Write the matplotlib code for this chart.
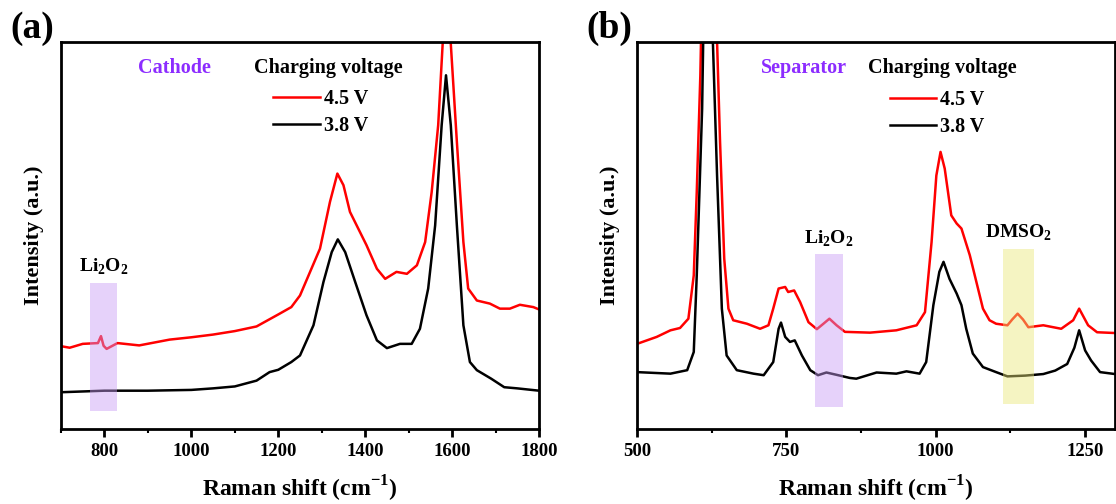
import numpy as np
import matplotlib
matplotlib.use("Agg")
import matplotlib.pyplot as plt
from matplotlib.ticker import MultipleLocator

plt.rcParams["font.family"] = ["Liberation Serif", "DejaVu Serif"]
plt.rcParams["font.weight"] = "bold"
plt.rcParams["mathtext.fontset"] = "custom"
plt.rcParams["mathtext.rm"] = "Liberation Serif:bold"
plt.rcParams["mathtext.bf"] = "Liberation Serif:bold"

# ---- panel (a): cathode ----
a_x_38 = [700, 800, 900, 1000, 1050, 1100, 1150, 1180, 1200, 1230, 1250, 1281, 1304,
          1323, 1337, 1354, 1377, 1403, 1427, 1450, 1480, 1507, 1526, 1545, 1561,
          1576, 1586, 1597, 1611, 1626, 1641, 1657, 1690, 1720, 1750, 1800]
a_y_38 = [9.5, 9.9, 9.9, 10.1, 10.5, 11.0, 12.5, 14.7, 15.3, 17.3, 19.0, 26.8, 38.0,
          45.7, 49.0, 45.7, 38.0, 29.4, 22.9, 20.9, 22.0, 22.0, 25.9, 36.3, 52.6,
          78.5, 91.4, 78.5, 52.6, 26.8, 17.3, 15.2, 13.0, 10.8, 10.5, 9.9]

a_x_45 = [700, 720, 750, 785, 792, 798, 805, 830, 880, 950, 1000, 1050, 1100, 1150,
          1200, 1230, 1250, 1296, 1319, 1336, 1350, 1365, 1403, 1427, 1446, 1472,
          1496, 1519, 1538, 1553, 1568, 1581, 1588, 1594, 1611, 1626, 1637, 1657,
          1687, 1710, 1733, 1756, 1787, 1800]
a_y_45 = [21.4, 21.0, 22.0, 22.2, 24.0, 21.5, 20.7, 22.2, 21.6, 23.1, 23.7, 24.4,
          25.3, 26.5, 29.6, 31.5, 34.5, 46.6, 58.7, 66.0, 63.0, 56.1, 47.5, 41.4,
          38.8, 40.6, 40.1, 42.3, 48.3, 61.2, 78.5, 105, 130, 105, 74.2, 48.3, 36.3,
          33.2, 32.4, 31.1, 31.1, 32.1, 31.5, 30.9]

# ---- panel (b): separator ----
b_x_38 = [500, 556, 584, 595, 600, 609, 618, 627, 634, 642, 650, 667, 695, 712, 728,
          737, 741, 748, 756, 764, 776, 790, 803, 817, 834, 856, 867, 901, 934, 951,
          973, 984, 996, 1006, 1013, 1023, 1035, 1043, 1051, 1062, 1079, 1101, 1120,
          1150, 1180, 1200, 1220, 1232, 1240, 1250, 1260, 1275, 1300]
b_y_38 = [14.7, 14.3, 15.2, 19.9, 39.7, 82.8, 170, 100, 65.5, 31.1, 19.0, 15.2, 14.3,
          13.9, 17.3, 25.9, 27.5, 23.8, 22.5, 22.9, 19.0, 15.2, 13.9, 14.6, 14.0,
          13.2, 13.0, 14.6, 14.3, 14.9, 14.3, 17.3, 32.0, 40.6, 43.2, 38.8, 35.0,
          32.0, 25.9, 19.5, 16.0, 14.7, 13.6, 13.8, 14.2, 15.1, 16.8, 21.0, 25.5,
          20.3, 17.7, 14.7, 14.2]

b_x_45 = [500, 533, 556, 572, 586, 595, 600, 606, 616, 634, 639, 646, 653, 661, 684,
          706, 720, 728, 737, 748, 753, 763, 773, 787, 801, 812, 822, 834, 848, 890,
          934, 968, 982, 993, 1001, 1008, 1015, 1026, 1035, 1043, 1057, 1068, 1079,
          1090, 1101, 1120, 1128, 1137, 1146, 1155, 1180, 1210, 1230, 1240, 1255,
          1270, 1300]
b_y_45 = [22.0, 23.8, 25.5, 26.1, 28.5, 39.7, 61.2, 91.4, 170, 100, 74.2, 44.0, 31.1,
          28.1, 27.2, 25.9, 26.8, 31.1, 36.3, 36.7, 35.4, 35.8, 32.8, 27.6, 25.8,
          27.2, 28.5, 26.8, 25.1, 24.9, 25.5, 26.8, 30.2, 48.3, 65.5, 71.6, 67.3,
          55.2, 53.1, 51.8, 44.9, 38.0, 31.1, 28.1, 27.2, 26.8, 28.3, 29.8, 28.3,
          26.3, 26.8, 25.9, 28.1, 31.1, 26.8, 25.0, 24.8]

series_labels = ["4.5 V", "3.8 V"]
line_colors = ["#ff0000", "#000000"]

# highlighted bands: (x0, x1, y0, y1) in data units, label
a_bands = [(766, 829, 4.6, 37.7, "Li$_2$O$_2$")]
b_bands = [(798, 845, 5.8, 45.1, "Li$_2$O$_2$"),
           (1113, 1165, 6.5, 46.6, "DMSO$_2$")]
band_colors = ["#c89cf4", "#ebe778"]

fig = plt.figure(figsize=(11.16, 5.04), dpi=100)
axA = fig.add_axes([61 / 1116, 1 - 429 / 504, 478 / 1116, 387 / 504])
axB = fig.add_axes([637 / 1116, 1 - 429 / 504, 478 / 1116, 387 / 504])


def setup(ax, xlim, major, minor):
    ax.set_xlim(*xlim)
    ax.set_ylim(0, 100)
    ax.set_yticks([])
    ax.xaxis.set_major_locator(MultipleLocator(major))
    ax.xaxis.set_minor_locator(MultipleLocator(minor))
    ax.tick_params(axis="x", which="major", direction="out", length=6, width=2,
                   labelsize=13.5, pad=4)
    ax.tick_params(axis="x", which="minor", direction="out", length=3, width=1.5)
    for lab in ax.get_xticklabels():
        lab.set_fontweight("bold")
    for s in ax.spines.values():
        s.set_linewidth(2)
    ax.set_xlabel("Raman shift (cm$^{-1}$)", fontsize=17, fontweight="bold", labelpad=10)
    ax.set_ylabel("Intensity (a.u.)", fontsize=16, fontweight="bold", labelpad=12)


def draw(ax, xs, ys, bands, colors):
    lines = []
    for x, y, lab, c in zip(xs, ys, series_labels, line_colors):
        ln, = ax.plot(x, y, color=c, lw=1.8, label=lab, solid_joinstyle="round")
        lines.append(ln)
    for (x0, x1, y0, y1, txt), bc in zip(bands, colors):
        ax.axvspan(x0, x1, ymin=y0 / 100, ymax=y1 / 100, color=bc, alpha=0.45,
                   lw=0, zorder=3)
        ax.text((x0 + x1) / 2, y1 + 1.5, txt, ha="center", va="bottom",
                fontsize=14, fontweight="bold")
    return lines


setup(axA, (700, 1800), 200, 100)
linesA = draw(axA, [a_x_45, a_x_38], [a_y_45, a_y_38], a_bands, band_colors[:1])
setup(axB, (500, 1300), 250, 125)
linesB = draw(axB, [b_x_45, b_x_38], [b_y_45, b_y_38], b_bands, band_colors)

for ax, name, name_x, title_x, lines, anchor in [
        (axA, "Cathode", 0.238, 0.559, linesA, (0.444, 0.879)),
        (axB, "Separator", 0.349, 0.638, linesB, (0.529, 0.876))]:
    ax.text(name_x, 0.933, name, transform=ax.transAxes, ha="center", va="center",
            color="#8c2cff", fontsize=14.5, fontweight="bold")
    ax.text(title_x, 0.933, "Charging voltage", transform=ax.transAxes,
            ha="center", va="center", fontsize=14.5, fontweight="bold")
    leg = ax.legend(handles=lines, loc="upper left", bbox_to_anchor=anchor,
                    frameon=False, fontsize=14.5, handlelength=2.3,
                    handletextpad=0.2, labelspacing=0.35, borderpad=0,
                    borderaxespad=0)
    for t in leg.get_texts():
        t.set_fontweight("bold")

fig.text(10 / 1116, 1 - 28 / 504, "(a)", fontsize=27, fontweight="bold", va="center")
fig.text(586 / 1116, 1 - 28 / 504, "(b)", fontsize=27, fontweight="bold", va="center")

fig.savefig("out.png", dpi=100)
